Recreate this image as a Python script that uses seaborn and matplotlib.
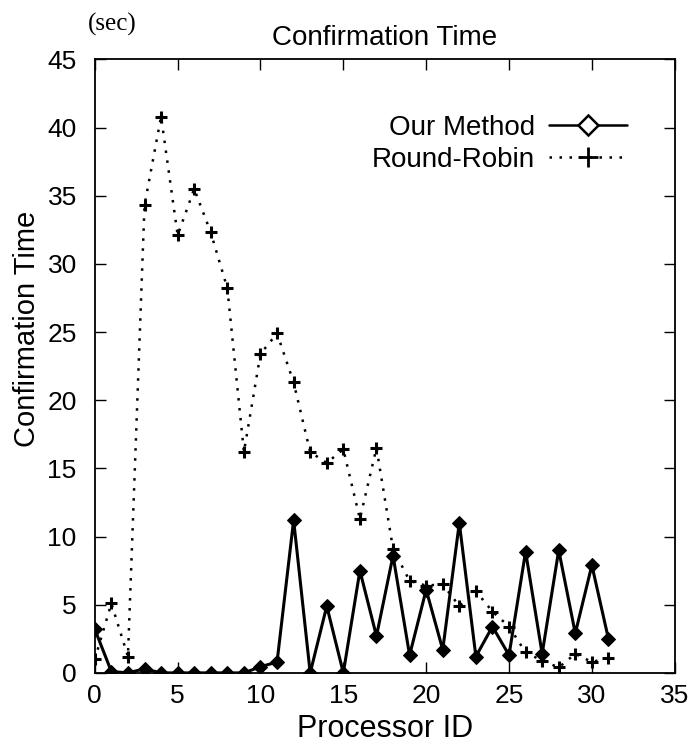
import numpy as np
import pandas as pd
import matplotlib
matplotlib.use("Agg")
import matplotlib.pyplot as plt
import seaborn as sns
from matplotlib.lines import Line2D

processor_id = list(range(32))
our_method = [3.2, 0.1, 0.0, 0.3, 0.0, 0.0, 0.0, 0.0, 0.0, 0.0, 0.45, 0.8,
              11.2, 0.0, 4.9, 0.0, 7.5, 2.7, 8.6, 1.3, 6.1, 1.7, 11.0, 1.2,
              3.4, 1.3, 8.9, 1.4, 9.0, 2.9, 7.9, 2.5]
round_robin = [1.0, 5.1, 1.2, 34.3, 40.8, 32.1, 35.5, 32.3, 28.2, 16.2, 23.4, 24.9,
               21.3, 16.2, 15.4, 16.4, 11.3, 16.5, 9.1, 6.75, 6.4, 6.5, 4.9, 6.0,
               4.5, 3.4, 1.5, 0.9, 0.4, 1.4, 0.8, 1.1]

df = pd.DataFrame({
    "Processor ID": processor_id,
    "Our Method": our_method,
    "Round-Robin": round_robin,
})

sns.set_style("ticks")
plt.rcParams["font.family"] = ["Liberation Sans", "DejaVu Sans"]
plt.rcParams["text.color"] = "black"
plt.rcParams["axes.labelcolor"] = "black"

fig = plt.figure(figsize=(6.92, 7.51), dpi=100)
ax = fig.add_axes([0.137, 0.104, 0.838, 0.817])

sns.lineplot(data=df, x="Processor ID", y="Round-Robin", ax=ax, color="black",
             linestyle=(0, (1, 3)), linewidth=1.8, marker="+", markersize=8,
             markeredgewidth=2.2, markeredgecolor="black")
sns.lineplot(data=df, x="Processor ID", y="Our Method", ax=ax, color="black",
             linewidth=2.2, marker="D", markersize=7.5, markerfacecolor="black",
             markeredgecolor="black")

ax.set_xlim(0, 35)
ax.set_ylim(0, 45)
ax.set_xticks(range(0, 36, 5))
ax.set_yticks(range(0, 46, 5))
ax.tick_params(direction="in", length=8, width=1, top=True, right=True,
               labelsize=19, colors="black")
ax.tick_params(axis="x", pad=8)
ax.tick_params(axis="y", pad=13)
for sp in ax.spines.values():
    sp.set_linewidth(1.3)
    sp.set_color("black")

ax.set_xlabel("Processor ID", fontsize=22, labelpad=4, color="black")
ax.set_ylabel("Confirmation Time", fontsize=21, color="black")
ax.yaxis.set_label_coords(-0.093, 0.56)
ax.set_title("Confirmation Time", fontsize=20, pad=10, color="black")
fig.text(0.127, 0.968, "(sec)", fontsize=18, family="Liberation Serif",
         ha="left", va="center", color="black")

handles = [
    Line2D([], [], color="black", linewidth=1.8, marker="D", markersize=10,
           markerfacecolor="white", markeredgewidth=1.8),
    Line2D([], [], color="black", linewidth=1.8, linestyle=(0, (1, 3)),
           marker="+", markersize=14, markeredgewidth=2),
]
leg = ax.legend(handles, ["Our Method", "Round-Robin"], loc="upper right",
                bbox_to_anchor=(0.96, 0.95), frameon=False, markerfirst=False,
                fontsize=20, handlelength=2.8, handletextpad=0.5, labelspacing=0.2)
for t in leg.get_texts():
    t.set_color("black")

fig.savefig("out.png", dpi=100)
